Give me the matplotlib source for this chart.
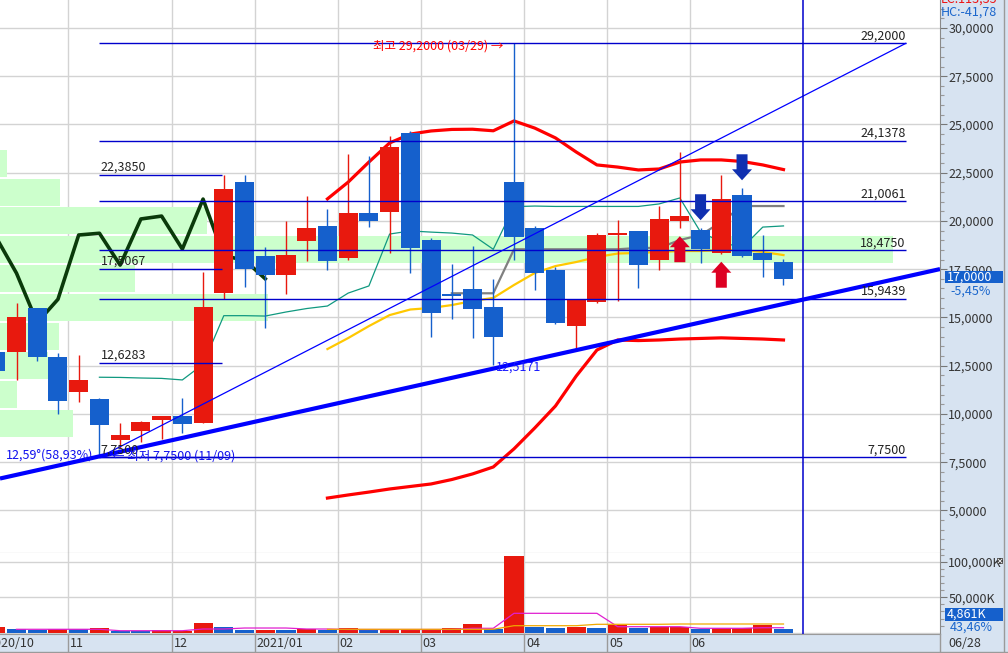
import matplotlib
matplotlib.use("Agg")
import matplotlib.pyplot as plt
import matplotlib.transforms as mtrans
from matplotlib.lines import Line2D
from matplotlib.patches import Rectangle, Polygon
from matplotlib.ticker import FuncFormatter, MultipleLocator, FixedLocator

plt.rcParams['font.family'] = ['Noto Sans CJK KR', 'DejaVu Sans']

# weekly candles: week 0 = 2020/10/12 ... week 37 = 2021/06/28
weeks = list(range(-1, 38))
opens = [13.21, 13.19, 15.49, 12.95, 11.15, 10.77, 8.65, 9.13, 9.68, 9.91,
         9.54, 16.28, 22.02, 18.18, 17.20, 18.97, 19.74, 18.09, 20.41, 20.48,
         24.54, 19.01, 16.12, 16.47, 15.52, 22.03, 19.62, 17.46, 14.57, 15.81,
         19.27, 19.48, 17.97, 19.99, 19.53, 18.35, 21.34, 18.32, 17.86]
highs = [13.30, 15.75, 15.50, 13.17, 13.05, 10.80, 9.54, 9.65, 9.89, 10.84,
         17.35, 22.385, 22.385, 18.63, 20.01, 21.29, 20.62, 23.47, 23.36, 24.40,
         24.66, 19.10, 17.77, 18.70, 16.97, 29.20, 19.74, 17.63, 15.94, 19.39,
         20.05, 19.48, 20.77, 23.55, 19.62, 22.38, 21.69, 19.27, 18.03]
lows = [12.10, 11.76, 12.76, 10.00, 10.63, 7.75, 8.22, 8.56, 8.68, 9.00,
        9.54, 15.95, 16.59, 14.44, 16.21, 17.94, 17.46, 18.00, 19.70, 18.32,
        17.28, 13.97, 14.90, 13.92, 12.5171, 17.97, 16.42, 14.66, 13.31, 15.75,
        15.87, 16.51, 17.46, 19.62, 17.80, 18.30, 18.14, 17.08, 16.68]
closes = [12.22, 15.04, 12.96, 10.68, 11.76, 9.43, 8.91, 9.60, 9.89, 9.48,
          15.55, 21.65, 17.49, 17.20, 18.23, 19.65, 17.94, 20.41, 20.01, 23.84,
          18.58, 15.21, 16.12, 15.42, 14.00, 19.18, 17.29, 14.73, 15.94, 19.27,
          19.36, 17.71, 20.10, 20.25, 18.54, 21.13, 18.18, 17.98, 17.00]
# volume in thousand shares, and whether the bar is drawn red (U) or blue (D)
volumes = [8450, 5200, 4200, 5200, 4800, 7000, 2800, 2800, 3400, 2800,
           14100, 8450, 4200, 3800, 3800, 5200, 4200, 7000, 4200, 4200,
           4200, 4200, 7000, 12200, 5500, 108000, 8450, 6600, 8450, 6600,
           10800, 7000, 7600, 8000, 5200, 6600, 6600, 11300, 4861]
vol_dir = "UDDUDUDDUU" "UDDUDUDUDU" "UUUUDUDDUD" "UDUUDUUUD"

# bollinger (20) from week 15
bb_start = 15
bb_mid = [13.36, 13.93, 14.55, 15.12, 15.41, 15.49, 15.64, 15.85, 16.01, 16.68,
          17.30, 17.66, 17.87, 18.13, 18.31, 18.34, 18.39, 18.44, 18.44, 18.49,
          18.49, 18.39, 18.23]
bb_up = [21.14, 22.01, 23.05, 24.04, 24.50, 24.66, 24.74, 24.75, 24.67, 25.18,
         24.81, 24.30, 23.57, 22.90, 22.79, 22.64, 22.69, 23.05, 23.16, 23.16,
         23.08, 22.90, 22.66]
bb_dn = [5.64, 5.80, 5.95, 6.11, 6.24, 6.37, 6.60, 6.89, 7.25, 8.19,
         9.27, 10.41, 11.96, 13.31, 13.83, 13.80, 13.83, 13.88, 13.91, 13.94,
         13.91, 13.88, 13.83]
teal_start = 4
teal = [11.90, 11.89, 11.86, 11.84, 11.76, 12.57, 15.09, 15.09, 15.07, 15.28,
        15.46, 15.59, 16.26, 16.63, 19.32, 19.48, 19.42, 19.37, 19.27, 18.53,
        20.74, 20.77, 20.75, 20.75, 20.75, 20.75, 20.75, 20.88, 21.19, 19.42,
        18.91, 18.60, 19.68, 19.74]
gray_start = 21
gray = [16.25, 16.25, 16.25, 18.53, 18.53, 18.53, 18.53, 18.53, 18.53, 18.60,
        18.60, 19.01, 19.27, 19.94, 20.77, 20.77, 20.77]
lag = 25  # lagging span

vma5_start = 0
vma5 = [4800, 4800, 4800, 4800, 4800, 2800, 2800, 2800, 2800, 5200,
        5200, 6600, 6600, 6600, 5200, 5200, 4500, 4500, 4500, 4500,
        4500, 4500, 6200, 6200, 27300, 27300, 27300, 27300, 27300, 8450,
        8450, 8450, 8450, 6200, 6200, 6200, 7000, 7000]
vma20_start = 15
vma20 = [4800] * 9 + [9860] * 4 + [11830] * 4 + [12250] * 6

# volume-by-price bars (upper edge of bin, relative volume)
prof_top = [23.67, 22.17, 20.72, 19.22, 17.72, 16.21, 14.71, 13.21, 11.71, 10.21]
prof_vol = [7, 60, 207, 893, 135, 268, 59, 48, 17, 73]

fib_levels = [29.2, 24.1378, 21.0061, 18.475, 15.9439, 7.75]
quarter_levels = [22.385, 17.5067, 12.6283, 7.75]
low_week, high_week = 4, 24
trend_slope = 0.2393  # per week, support line from the 11/09 low
trend_base = 7.80

month_pos = [-1.5, 2.5, 7.5, 11.5, 15.5, 19.5, 24.5, 28.5, 32.5]
month_labels = ['2020/10', '11', '12', '2021/01', '02', '03', '04', '05', '06']
buy_weeks = [32, 34]
sell_weeks = [33, 35]
cursor_week = 37.93

RED = '#e8190e'
BLUE = '#1560cc'
PANEL = '#d7e3f1'
GRID = '#d3d3d3'
FIB = '#0000cc'
TREND = '#0000ff'


def fmt_price(v):
    return f"{v:.4f}".replace('.', ',')


W, H = 1008, 653
fig = plt.figure(figsize=(W / 100, H / 100), dpi=100, facecolor=PANEL)
ax = fig.add_axes([0, 100 / H, 940 / W, 553 / H])
axv = fig.add_axes([0, 19 / H, 940 / W, 81 / H], sharex=ax)
for a in (ax, axv):
    a.set_facecolor('white')
    for s in ('left', 'top'):
        a.spines[s].set_visible(False)
    a.spines['right'].set_color('#8a8a8a')
    a.spines['bottom'].set_color('#9a9a9a')
    a.yaxis.tick_right()
    a.tick_params(axis='x', bottom=False, labelbottom=False)
    a.tick_params(axis='y', which='major', direction='out', length=5, width=0.8,
                  color='#777777', labelsize=9, labelcolor='#333333', pad=1)
    a.tick_params(axis='y', which='minor', direction='out', length=3, width=0.8,
                  color='#999999')

ax.set_xlim(-0.796, 44.55)
ax.set_ylim(2.793, 31.446)
axv.set_ylim(-1830, 112250)

ax.yaxis.set_major_locator(MultipleLocator(2.5))
ax.yaxis.set_minor_locator(MultipleLocator(0.5))
ax.yaxis.set_major_formatter(FuncFormatter(lambda v, p: fmt_price(v)))
axv.yaxis.set_major_locator(FixedLocator([50000, 100000]))
axv.yaxis.set_minor_locator(FixedLocator([v * 10000 for v in range(1, 12) if v not in (5, 10)]))
axv.yaxis.set_major_formatter(FuncFormatter(lambda v, p: f"{int(v):,}K"))

# grid
for lv in range(2, 13):
    ax.axhline(lv * 2.5, color=GRID, lw=1, zorder=0.3)
for lv in (0, 50000, 100000):
    axv.axhline(lv, color=GRID, lw=1, zorder=0.3)
for m in month_pos:
    ax.axvline(m, color=GRID, lw=1, zorder=0.3)
    axv.axvline(m, color=GRID, lw=1, zorder=0.3)

# volume-by-price
bt = mtrans.blended_transform_factory(ax.transAxes, ax.transData)
vmax = max(prof_vol)
for top, v in zip(prof_top, prof_vol):
    ax.add_patch(Rectangle((0, top - 1.40), v / vmax * 0.95, 1.40, transform=bt,
                           facecolor='#ccffcc', edgecolor='none', zorder=0.5))

# indicator lines
ks = list(range(bb_start, bb_start + len(bb_mid)))
ax.plot(ks, bb_up, color='#ff0000', lw=2.3, zorder=2)
ax.plot(ks, bb_dn, color='#ff0000', lw=2.3, zorder=2)
ax.plot(ks, bb_mid, color='#ffc800', lw=1.6, zorder=2)
ax.plot(range(teal_start, teal_start + len(teal)), teal, color='#109980', lw=0.9, zorder=2)
ax.plot(range(gray_start, gray_start + len(gray)), gray, color='#808080', lw=1.6, zorder=2)
lag_x = [k - lag for k in weeks if k - lag >= -2]
lag_y = [c for k, c in zip(weeks, closes) if k - lag >= -2]
ax.plot(lag_x, lag_y, color='#0a3a0a', lw=2.6, zorder=2)

# candles
cols = [RED if c > o else BLUE for o, c in zip(opens, closes)]
ax.vlines(weeks, lows, highs, colors=cols, lw=1.0, zorder=3)
bodies = [max(abs(c - o), 0.07) for o, c in zip(opens, closes)]
ax.bar(weeks, bodies, bottom=[min(o, c) for o, c in zip(opens, closes)], width=0.92,
       color=cols, zorder=3.1)

# fibonacci levels and quarter lines
hi = max(highs)
ax.hlines(fib_levels, low_week, 42.9, colors=FIB, lw=1.0, zorder=4)
for lv in fib_levels:
    ax.text(42.9, lv + 0.06, fmt_price(lv), ha='right', va='bottom', fontsize=9,
            color='#222222', zorder=5)
ax.hlines(quarter_levels, low_week, 9.9, colors=FIB, lw=1.0, zorder=4)
for lv in quarter_levels:
    ax.text(low_week + 0.05, lv + 0.06, fmt_price(lv), ha='left', va='bottom', fontsize=9,
            color='#222222', zorder=5)

# trend lines
ax.plot([low_week, 42.9], [lows[low_week + 1], hi], color=TREND, lw=0.9, zorder=4)
x0, x1 = ax.get_xlim()
ax.plot([x0, x1], [trend_base + (x0 - low_week) * trend_slope,
                   trend_base + (x1 - low_week) * trend_slope],
        color=TREND, lw=3.0, zorder=4.5, solid_capstyle='butt')

ax.axvline(cursor_week, color=FIB, lw=1.1, zorder=4)
axv.axvline(cursor_week, color=FIB, lw=1.1, zorder=4)

# labels
ax.text(high_week - 0.53, hi - 0.14, "최고 " + fmt_price(hi) + " (03/29) →", ha='right',
        va='center', fontsize=9, color='#ff0000', zorder=5)
ax.text(low_week + 0.6, 7.80, "← 최저 " + fmt_price(lows[low_week + 1]) + " (11/09)",
        ha='left', va='center', fontsize=9, color='#1010ee', zorder=5)
ax.text(low_week - 0.3, 7.85, "12,59°(58,93%)", ha='right', va='center', fontsize=9,
        color='#1010ee', zorder=5)
ax.text(23.15, lows[24] - 0.11, fmt_price(lows[24]), ha='left', va='center', fontsize=9,
        color='#1a1aff', zorder=5)


# signal arrows
def arrow(k, tip, up, color):
    hw, sw = 10 / 20.73, 5.5 / 20.73
    hh, th = 11 / 19.3, 26 / 19.3
    d = -1 if up else 1
    pts = [(k, tip), (k + hw, tip + d * hh), (k + sw, tip + d * hh), (k + sw, tip + d * th),
           (k - sw, tip + d * th), (k - sw, tip + d * hh), (k - hw, tip + d * hh)]
    ax.add_patch(Polygon(pts, closed=True, facecolor=color, edgecolor='none', zorder=6))


for k in buy_weeks:
    arrow(k, lows[k + 1] - 8 / 19.3, True, '#dd0022')
for k in sell_weeks:
    arrow(k, highs[k + 1] + 8 / 19.3, False, '#1030b0')

# volume
vcols = [RED if d == 'U' else BLUE for d in vol_dir]
axv.bar(weeks, volumes, width=0.92, color=vcols, zorder=2)
axv.plot(range(vma5_start, vma5_start + len(vma5)), vma5, color='#e020d0', lw=0.9, zorder=3)
axv.plot(range(vma20_start, vma20_start + len(vma20)), vma20, color='#f0a800', lw=0.9, zorder=3)

# x labels band
bx = mtrans.blended_transform_factory(axv.transData, fig.transFigure)
for m, lab in zip(month_pos, month_labels):
    fig.add_artist(Line2D([m, m], [0, 19 / H], transform=bx, color='#9a9a9a', lw=1))
    fig.text(m + 0.08, 9.5 / H, lab, transform=bx, ha='left', va='center', fontsize=9,
             color='#333333')
fig.add_artist(Line2D([0, 1], [1 / H, 1 / H], color='#9a9a9a', lw=1))
fig.add_artist(Line2D([1004 / W, 1004 / W], [0, 1], color='#9a9a9a', lw=1))
fig.add_artist(Line2D([940 / W, 940 / W], [0, 19 / H], color='#9a9a9a', lw=1))
fig.text(948 / W, 9.5 / H, "06/28", ha='left', va='center', fontsize=9, color='#333333')

# right panel boxes
by = mtrans.blended_transform_factory(fig.transFigure, ax.transData)
last = closes[-1]
box_c = last + 1.8 / 19.3
fig.add_artist(Rectangle((945 / W, box_c - 0.32), 58 / W, 0.64, transform=by,
                         facecolor=BLUE, edgecolor='none', zorder=5))
fig.text(947 / W, box_c, fmt_price(last), transform=by, ha='left', va='center',
         fontsize=9, color='white', zorder=6)
chg = (last / closes[-2] - 1) * 100
fig.text(950 / W, 1 - 291 / H, f"{chg:.2f}%".replace('.', ','), ha='left', va='center',
         fontsize=9, color='#1a66cc')
fig.add_artist(Rectangle((945 / W, 1 - 621 / H), 58 / W, 13 / H, facecolor=BLUE,
                         edgecolor='none'))
fig.text(947 / W, 1 - 614.5 / H, f"{volumes[-1]:,}K", ha='left', va='center', fontsize=9,
         color='white')
fig.text(950 / W, 1 - 627 / H, "43,46%", ha='left', va='center', fontsize=9, color='#1a66cc')
fig.add_artist(Rectangle((997 / W, 1 - 564 / H), 6 / W, 6 / H, facecolor='#444444',
                         edgecolor='none'))
fig.add_artist(Line2D([998 / W, 1002 / W], [1 - 563 / H, 1 - 559 / H], color='white', lw=0.6))
fig.add_artist(Line2D([998 / W, 1002 / W], [1 - 559 / H, 1 - 563 / H], color='white', lw=0.6))

fig.text(941 / W, 1 + 1 / H, "LC:113,35", ha='left', va='center', fontsize=9, color='#ee1111')
fig.text(941 / W, 1 - 12 / H, "HC:-41,78", ha='left', va='center', fontsize=9, color='#1a66cc')

fig.savefig("out.png", dpi=100, facecolor=PANEL)
